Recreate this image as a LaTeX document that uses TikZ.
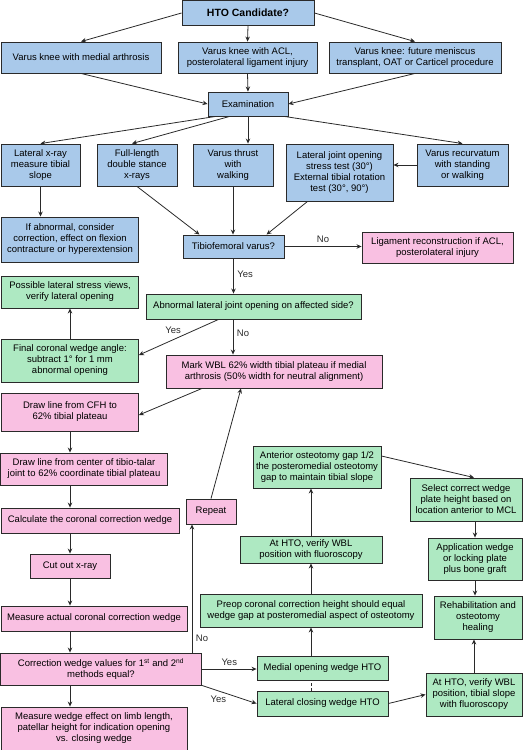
\documentclass[tikz,border=0pt]{standalone}
\usepackage{fontspec}
\setmainfont{Liberation Sans}
\usetikzlibrary{arrows.meta,positioning,calc}
\definecolor{ink}{HTML}{2A2A2A}
\definecolor{skyfill}{HTML}{A9C9EA}
\definecolor{rosefill}{HTML}{F9C0E2}
\definecolor{mintfill}{HTML}{AEE9C2}
\tikzset{box/.style={draw=ink,fill=skyfill,line width=.9pt,align=center,font=\fontsize{9.5}{11}\selectfont,inner sep=1pt},pinkbox/.style={box,fill=rosefill},greenbox/.style={box,fill=mintfill},sz/.style 2 args={minimum width=#1,minimum height=#2},flow/.style={-{Stealth[length=5pt,width=4.5pt]},line width=.8pt,draw=ink},note/.style={font=\fontsize{9.5}{11}\selectfont,text=ink,inner sep=1.5pt}}

\begin{document}
\begin{tikzpicture}[x=1pt,y=-1pt]
\useasboundingbox (0,0) rectangle (525,750);
% entry and indications
\node[box,sz={132}{25}] (cand) at (248,13) {\fontsize{10.5}{12}\selectfont\bfseries HTO Candidate?};
\node[box,sz={160}{31}] (k1) at (81,57.5) {Varus knee with medial arthrosis};
\node[box,sz={139}{31}] (k2) at (247.5,57.5) {Varus knee with ACL,\\posterolateral ligament injury};
\node[box,sz={172}{31}] (k3) at (415,57.5) {Varus knee: future meniscus\\transplant, OAT or Carticel procedure};
\node[box,sz={80}{24}] (exam) at (248,104) {Examination};
% examination findings
\node[box,sz={79}{42}] (xlat) at (40.5,165) {Lateral x-ray\\measure tibial\\slope};
\node[box,sz={80}{42}] (full) at (137,165) {Full-length\\double stance\\x-rays};
\node[box,sz={80}{42}] (thrust) at (233,165) {Varus thrust\\with\\walking};
\node[box,sz={107}{57}] (stress) at (339.5,172.5) {Lateral joint opening\\stress test (30°)\\External tibial rotation\\test (30°, 90°)};
\node[box,sz={91}{42}] (recurv) at (462.5,165) {Varus recurvatum\\with standing\\or walking};
\node[box,sz={137}{45}] (abn) at (70,239.5) {If abnormal, consider\\correction, effect on flexion\\contracture or hyperextension};
\node[box,sz={101}{23}] (varus) at (233.5,246.5) {Tibiofemoral varus?};
\node[pinkbox,sz={151}{31}] (lig) at (437.5,247.5) {Ligament reconstruction if ACL,\\posterolateral injury};
% lateral opening
\node[greenbox,sz={137}{32}] (views) at (70,292) {Possible lateral stress views,\\verify lateral opening};
\node[greenbox,sz={215}{25}] (open) at (253.5,306.5) {Abnormal lateral joint opening on affected side?};
\node[greenbox,sz={137}{43}] (final) at (70,360.5) {Final coronal wedge angle:\\subtract 1° for 1 mm\\abnormal opening};
% planning on x-ray
\node[pinkbox,sz={216}{33}] (wbl) at (274,371.5) {Mark WBL 62\% width tibial plateau if medial\\arthrosis (50\% width for neutral alignment)};
\node[pinkbox,sz={137}{38}] (cfh) at (70,412) {Draw line from CFH to\\62\% tibial plateau};
\node[pinkbox,sz={167}{32}] (talar) at (84,469) {Draw line from center of tibio-talar\\joint to 62\% coordinate tibial plateau};
\node[pinkbox,sz={178}{25}] (calc) at (90,520.5) {Calculate the coronal correction wedge};
\node[pinkbox,sz={80}{24}] (cut) at (70,566) {Cut out x-ray};
\node[pinkbox,sz={50}{25}] (repeat) at (211,511.5) {Repeat};
\node[pinkbox,sz={186}{25}] (actual) at (94,618.5) {Measure actual coronal correction wedge};
\node[pinkbox,sz={201}{32}] (equal) at (101,669) {Correction wedge values for 1\textsuperscript{st} and 2\textsuperscript{nd}\\methods equal?};
\node[pinkbox,sz={186}{43}] (effect) at (94,728.5) {Measure wedge effect on limb length,\\patellar height for indication opening\\vs. closing wedge};
% osteotomy
\node[greenbox,sz={128}{42}] (gap) at (317,467) {Anterior osteotomy gap 1/2\\the posteromedial osteotomy\\gap to maintain tibial slope};
\node[greenbox,sz={142}{27}] (verify) at (311,549.5) {At HTO, verify WBL\\position with fluoroscopy};
\node[greenbox,sz={222}{33}] (preop) at (311,610.5) {Preop coronal correction height should equal\\wedge gap at posteromedial aspect of osteotomy};
\node[greenbox,sz={131}{24}] (medial) at (322.5,668) {Medial opening wedge HTO};
\node[greenbox,sz={131}{25}] (lateral) at (322.5,703.5) {Lateral closing wedge HTO};
\node[greenbox,sz={112}{43}] (select) at (466,499.5) {Select correct wedge\\plate height based on\\location anterior to MCL};
\node[greenbox,sz={94}{42}] (plate) at (475,559) {Application wedge\\or locking plate\\plus bone graft};
\node[greenbox,sz={88}{43}] (rehab) at (478,617.5) {Rehabilitation and\\osteotomy\\healing};
\node[greenbox,sz={96}{43}] (slope) at (474,694.5) {At HTO, verify WBL\\position, tibial slope\\with fluoroscopy};
\coordinate (noup) at ([xshift=-19pt]repeat.south);

% connectors
\draw[flow] (cand.west) -- (k1.north);
\draw[flow] (cand.south) -- (k2.north);
\draw[flow] (cand.east) -- (k3.north);
\draw[flow] (k1.south) -- (exam.west);
\draw[flow] (k2.south) -- (exam.north);
\draw[flow] (k3.south) -- (exam.east);
\draw[flow] ([xshift=8pt]exam.south west) -- (xlat.north);
\draw[flow] ([xshift=22pt]exam.south west) -- ([xshift=-5pt]full.north);
\draw[flow] (exam.south) -- (exam.south |- thrust.north);
\draw[flow] ([xshift=-4pt]exam.south east) -- (recurv.north);
\draw[flow] (recurv.west) -- (recurv.west -| stress.east);
\draw[flow] (xlat.south) -- (xlat.south |- abn.north);
\draw[flow] (full.south) -- ([xshift=-34pt]varus.north);
\draw[flow] (thrust.south) -- (thrust.south |- varus.north);
\draw[flow] ([xshift=-32pt]stress.south) -- ([xshift=33pt]varus.north);
\draw[flow] (varus.east) -- (varus.east -| lig.west) node[note,midway,above,yshift=2pt] {No};
\draw[flow] (varus.south) -- (varus.south |- open.north) node[note,pos=.45,right,xshift=2pt] {Yes};
\draw[flow] ([xshift=-35pt]open.south) -- ([yshift=5.5pt]final.east) node[note,pos=.45,anchor=south east] {Yes};
\draw[flow] ([xshift=-20.5pt]open.south) -- ([xshift=-20.5pt]open.south |- wbl.north) node[note,pos=.4,right,xshift=2pt] {No};
\draw[flow] (final.north) -- (views.south);
\draw[flow] ([xshift=-72pt]wbl.south) -- ([yshift=-3pt]cfh.east);
\draw[flow] (cfh.south) -- (cfh.south |- talar.north);
\draw[flow] (talar.south -| cut) -- (calc.north -| cut);
\draw[flow] (calc.south -| cut) -- (cut.north);
\draw[flow] (cut.south) -- (actual.north -| cut);
\draw[flow] (actual.south -| cut) -- (equal.north -| cut);
\draw[flow] (equal.south -| cut) -- (effect.north -| cut);
\draw[flow] (equal.north -| noup) -- (noup) node[note,pos=.11,right,xshift=2pt] {No};
\draw[flow] (repeat.north) -- ([xshift=-33pt]wbl.south);
\draw[flow] (equal.east) -- (equal.east -| medial.west) node[note,midway,above,yshift=2pt] {Yes};
\draw[flow] (equal.south east) -- (lateral.west) node[note,pos=.3,below,yshift=-3pt] {Yes};
\draw[flow] (medial.north -| preop.south) -- (preop.south);
\draw[ink,line width=.8pt,dash pattern=on 3pt off 2pt] (lateral.north -| preop.south) -- (medial.south -| preop.south);
\draw[flow] (preop.north) -- (verify.south);
\draw[flow] (verify.north) -- (verify.north |- gap.south);
\draw[flow] ([yshift=11pt]gap.east) -- ([xshift=8pt]select.north);
\draw[flow] (plate.north |- select.south) -- (plate.north);
\draw[flow] (plate.south) -- (plate.south |- rehab.north);
\draw[flow] (slope.north) -- (slope.north |- rehab.south);
\draw[flow] (lateral.east) -- (slope.west);
\end{tikzpicture}
\end{document}
